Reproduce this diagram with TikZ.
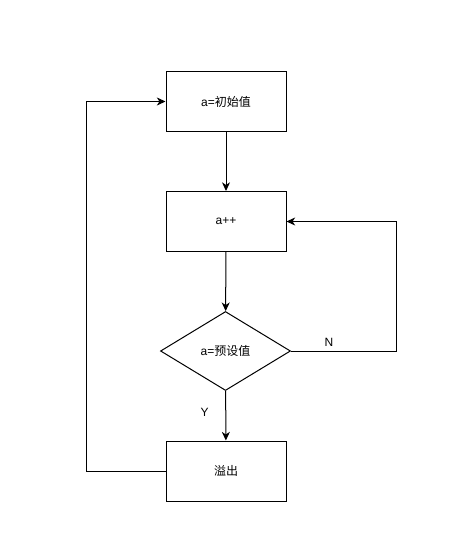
\documentclass[tikz,border=0pt]{standalone}
\usepackage{fontspec}
\setmainfont{Liberation Sans}
\newfontfamily\cjk{Noto Sans CJK SC}
\usetikzlibrary{arrows.meta,shapes.geometric}
\begin{document}
\begin{tikzpicture}[x=0.75pt,y=-0.75pt,
  every node/.style={font=\fontsize{9}{11}\selectfont},
  proc/.style={draw,line width=0.75pt,minimum width=90pt,minimum height=45pt,inner sep=0pt},
  dec/.style={draw,line width=0.75pt,diamond,minimum width=97.5pt,minimum height=59.25pt,inner sep=0pt},
  conn/.style={line width=0.75pt,-{Stealth[length=6.5pt,width=6pt,inset=2pt]}},
  plain/.style={line width=0.75pt}]
\useasboundingbox (0,0) rectangle (451,556);
\node[proc] (init) at (226,101.5) {a={\cjk 初始值}};
\node[proc] (inc) at (226,221.5) {a++};
\node[dec,shape aspect=1.65] (cmp) at (225.5,351) {a={\cjk 预设值}};
\node[proc] (ovf) at (226,471) {{\cjk 溢出}};
\coordinate (rt) at (396,351);
\coordinate (rb) at (396,221.5);
\coordinate (lb) at (86,471);
\coordinate (lt) at (86,101.5);
\draw[conn] (init) -- (inc);
\draw[conn] (inc) -- (cmp);
\draw[conn] (cmp) -- (ovf);
\draw[conn] (cmp.east) -- (rt) -- (rb) -- (inc.east);
\draw[conn] (ovf.west) -- (lb) -- (lt) -- (init.west);
\node (n) at (329,342) {N};
\node (y) at (204.5,412) {Y};
\end{tikzpicture}
\end{document}
